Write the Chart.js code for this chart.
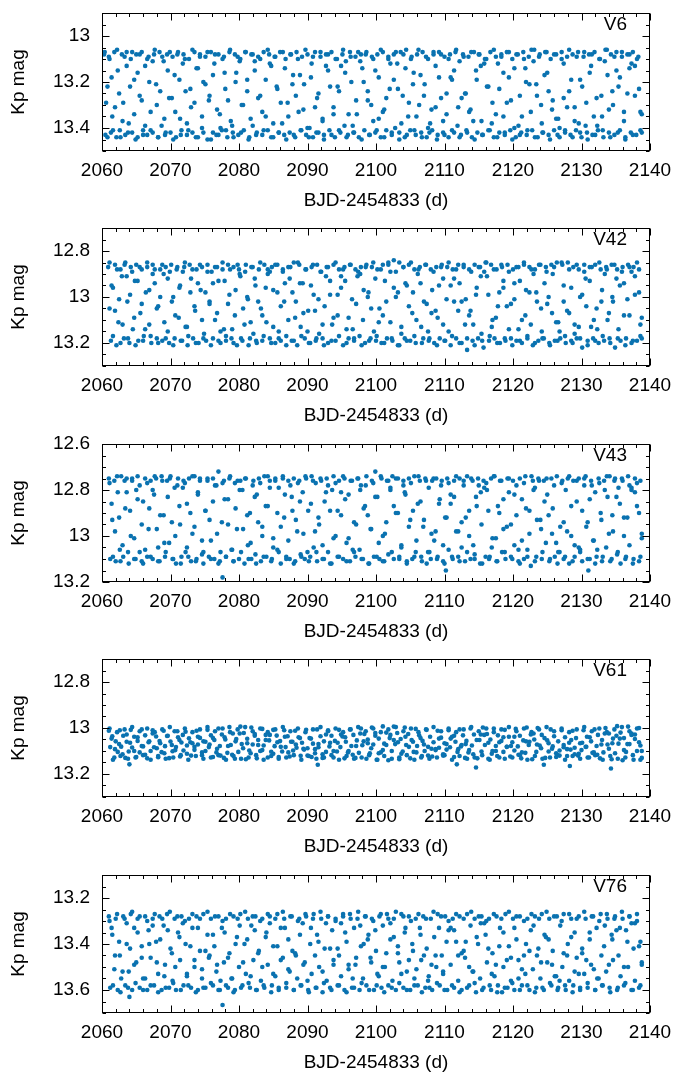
<!DOCTYPE html>
<html><head><meta charset="utf-8">
<script src="https://cdn.jsdelivr.net/npm/chart.js@4.4.1/dist/chart.umd.min.js"></script>
<style>
html,body{margin:0;padding:0;background:#fff;}
#wrap{position:relative;width:684px;height:1077px;overflow:hidden;}
#wrap canvas{position:absolute;left:0;}
</style></head><body><div id="wrap"></div>
<script>
// ---------- data ----------
const xTicks = [2060,2070,2080,2090,2100,2110,2120,2130,2140];
const xRange = [2060, 2140];
const starNames = ['V6','V42','V43','V61','V76'];
const v6Range = [12.9, 13.5];   const v6Ticks = [13, 13.2, 13.4];
const v42Range = [12.7, 13.3];  const v42Ticks = [12.8, 13, 13.2];
const v43Range = [12.6, 13.2];  const v43Ticks = [12.6, 12.8, 13, 13.2];
const v61Range = [12.7, 13.3];  const v61Ticks = [12.8, 13, 13.2];
const v76Range = [13.1, 13.7];  const v76Ticks = [13.2, 13.4, 13.6];

const v6 = [
[2060.3,13.08],[2060.5,13.43],[2060.8,13.22],[2061.0,13.09],[2061.3,13.42],[2061.5,13.35],[2061.8,13.07],[2062.1,13.44],
[2062.3,13.15],[2062.6,13.41],[2062.9,13.08],[2063.1,13.29],[2063.4,13.43],[2063.6,13.07],[2063.9,13.38],[2064.2,13.10],
[2064.4,13.42],[2064.7,13.19],[2065.0,13.08],[2065.2,13.44],[2065.5,13.26],[2065.8,13.07],[2066.0,13.41],[2066.3,13.13],
[2066.6,13.43],[2066.8,13.09],[2067.1,13.33],[2067.4,13.42],[2067.6,13.08],[2067.9,13.21],[2068.2,13.44],[2068.4,13.07],
[2068.7,13.39],[2069.0,13.11],[2069.2,13.43],[2069.5,13.08],[2069.8,13.27],[2070.0,13.42],[2070.3,13.09],[2070.6,13.17],
[2070.8,13.44],[2071.1,13.07],[2071.4,13.36],[2071.6,13.41],[2071.9,13.08],[2072.2,13.24],[2072.4,13.43],[2072.7,13.10],
[2073.0,13.31],[2073.2,13.42],[2073.5,13.07],[2073.8,13.14],[2074.0,13.44],[2074.3,13.08],[2074.6,13.40],[2074.8,13.20],
[2075.1,13.09],[2075.4,13.45],[2075.6,13.28],[2075.9,13.07],[2076.2,13.42],[2076.4,13.12],[2076.7,13.43],[2077.0,13.08],
[2077.2,13.34],[2077.5,13.41],[2077.8,13.09],[2078.0,13.23],[2078.3,13.44],[2078.6,13.07],[2078.8,13.37],[2079.1,13.42],
[2079.4,13.08],[2079.6,13.16],[2079.9,13.43],[2080.2,13.10],[2080.4,13.30],[2080.7,13.41],[2081.0,13.07],[2081.2,13.19],
[2081.5,13.44],[2081.8,13.08],[2082.0,13.39],[2082.3,13.11],[2082.6,13.42],[2082.8,13.09],[2083.1,13.26],[2083.4,13.43],
[2083.6,13.07],[2083.9,13.35],[2084.2,13.41],[2084.4,13.08],[2084.7,13.13],[2085.0,13.44],[2085.2,13.09],[2085.5,13.22],
[2085.8,13.42],[2086.0,13.07],[2086.3,13.38],[2086.6,13.43],[2086.8,13.10],[2087.1,13.29],[2087.4,13.42],[2087.6,13.08],
[2087.9,13.17],[2088.2,13.44],[2088.4,13.07],[2088.7,13.33],[2089.0,13.41],[2089.2,13.09],[2089.5,13.21],[2089.8,13.43],
[2090.0,13.08],[2090.3,13.40],[2090.6,13.12],[2090.8,13.44],[2091.1,13.07],[2091.4,13.27],[2091.6,13.42],[2091.9,13.09],
[2092.2,13.36],[2092.4,13.43],[2092.7,13.08],[2093.0,13.15],[2093.2,13.41],[2093.5,13.07],[2093.8,13.31],[2094.0,13.44],
[2094.3,13.10],[2094.6,13.24],[2094.8,13.42],[2095.1,13.08],[2095.4,13.39],[2095.6,13.11],[2095.9,13.43],[2096.2,13.07],
[2096.4,13.20],[2096.7,13.42],[2097.0,13.09],[2097.2,13.34],[2097.5,13.44],[2097.8,13.08],[2098.0,13.14],[2098.3,13.41],
[2098.6,13.07],[2098.8,13.28],[2099.1,13.43],[2099.4,13.09],[2099.6,13.37],[2099.9,13.42],[2100.2,13.08],[2100.4,13.18],
[2100.7,13.44],[2101.0,13.07],[2101.2,13.32],[2101.5,13.41],[2101.8,13.10],[2102.0,13.23],[2102.3,13.43],[2102.6,13.08],
[2102.8,13.40],[2103.1,13.12],[2103.4,13.42],[2103.6,13.07],[2103.9,13.26],[2104.2,13.44],[2104.4,13.06],[2104.7,13.35],
[2105.0,13.41],[2105.2,13.09],[2105.5,13.16],[2105.8,13.43],[2106.0,13.08],[2106.3,13.30],[2106.6,13.42],[2106.8,13.07],
[2107.1,13.21],[2107.4,13.44],[2107.6,13.10],[2107.9,13.38],[2108.2,13.41],[2108.4,13.08],[2108.7,13.13],[2109.0,13.43],
[2109.2,13.07],[2109.5,13.27],[2109.8,13.42],[2110.0,13.09],[2110.3,13.34],[2110.6,13.44],[2110.8,13.08],[2111.1,13.19],
[2111.4,13.42],[2111.6,13.07],[2111.9,13.39],[2112.2,13.11],[2112.4,13.43],[2112.7,13.08],[2113.0,13.25],[2113.2,13.41],
[2113.5,13.09],[2113.8,13.32],[2114.0,13.44],[2114.3,13.07],[2114.6,13.15],[2114.8,13.42],[2115.1,13.08],[2115.4,13.37],
[2115.6,13.43],[2115.9,13.10],[2116.2,13.22],[2116.4,13.41],[2116.7,13.07],[2117.0,13.29],[2117.2,13.44],[2117.5,13.09],
[2117.8,13.12],[2118.0,13.42],[2118.3,13.08],[2118.6,13.35],[2118.8,13.43],[2119.1,13.07],[2119.4,13.18],[2119.6,13.41],
[2119.9,13.10],[2120.2,13.40],[2120.4,13.44],[2120.7,13.08],[2121.0,13.26],[2121.2,13.42],[2121.5,13.07],[2121.8,13.14],
[2122.0,13.43],[2122.3,13.09],[2122.6,13.33],[2122.8,13.41],[2123.1,13.06],[2123.4,13.21],[2123.6,13.44],[2123.9,13.08],
[2124.2,13.38],[2124.4,13.42],[2124.7,13.07],[2125.0,13.16],[2125.2,13.43],[2125.5,13.10],[2125.8,13.28],[2126.0,13.41],
[2126.3,13.08],[2126.6,13.36],[2126.8,13.44],[2127.1,13.07],[2127.4,13.12],[2127.6,13.42],[2127.9,13.09],[2128.2,13.24],
[2128.4,13.43],[2128.7,13.08],[2129.0,13.31],[2129.2,13.41],[2129.5,13.07],[2129.8,13.19],[2130.0,13.44],[2130.3,13.09],
[2130.6,13.39],[2130.8,13.42],[2131.1,13.08],[2131.4,13.13],[2131.6,13.43],[2131.9,13.07],[2132.2,13.27],[2132.4,13.41],
[2132.7,13.10],[2133.0,13.35],[2133.2,13.44],[2133.5,13.06],[2133.8,13.17],[2134.0,13.42],[2134.3,13.08],[2134.6,13.30],
[2134.8,13.43],[2135.1,13.07],[2135.4,13.22],[2135.6,13.41],[2135.9,13.09],[2136.2,13.37],[2136.4,13.44],[2136.7,13.08],
[2137.0,13.14],[2137.2,13.42],[2137.5,13.07],[2137.8,13.26],[2138.0,13.43],[2138.3,13.09],[2138.6,13.33],[2138.8,13.42]
];
const v6b = [
[2060.4,13.07],[2060.6,13.29],[2060.8,13.44],
[2061.1,13.10],[2061.4,13.18],[2061.6,13.41],[2061.9,13.31],[2062.2,13.06],[2062.5,13.25],[2062.7,13.44],[2063.0,13.37],
[2063.3,13.09],[2063.6,13.13],[2063.8,13.42],[2064.1,13.22],[2064.4,13.07],[2064.7,13.34],[2064.9,13.45],[2065.2,13.16],
[2065.5,13.08],[2065.8,13.28],[2066.0,13.43],[2066.3,13.39],[2066.6,13.10],[2066.9,13.20],[2067.1,13.41],[2067.4,13.11],
[2067.7,13.06],[2068.0,13.30],[2068.2,13.44],[2068.5,13.24],[2068.8,13.09],[2069.1,13.36],[2069.3,13.42],[2069.6,13.15],
[2069.9,13.07],[2070.2,13.27],[2070.4,13.45],[2070.7,13.33],[2071.0,13.08],[2071.3,13.19],[2071.5,13.43],[2071.8,13.12],
[2072.1,13.10],[2072.4,13.38],[2072.6,13.41],[2072.9,13.23],[2073.2,13.06],[2073.5,13.29],[2073.7,13.44],[2074.0,13.14],
[2074.3,13.09],[2074.6,13.35],[2074.8,13.42],[2075.1,13.21],[2075.4,13.07],[2075.7,13.26],[2075.9,13.45],[2076.2,13.17],
[2076.5,13.08],[2076.8,13.32],[2077.0,13.43],[2077.3,13.40],[2077.6,13.10],[2077.9,13.16],[2078.1,13.41],[2078.4,13.28],
[2078.7,13.06],[2079.0,13.39],[2079.2,13.44],[2079.5,13.20],[2079.8,13.09],[2080.1,13.11],[2080.3,13.42],[2080.6,13.30],
[2080.9,13.07],[2081.2,13.24],[2081.4,13.45],[2081.7,13.36],[2082.0,13.08],[2082.3,13.15],[2082.5,13.43],[2082.8,13.27],
[2083.1,13.10],[2083.4,13.33],[2083.6,13.41],[2083.9,13.19],[2084.2,13.06],[2084.5,13.12],[2084.7,13.44],[2085.0,13.38],
[2085.3,13.09],[2085.6,13.23],[2085.8,13.42],[2086.1,13.29],[2086.4,13.07],[2086.7,13.14],[2086.9,13.45],[2087.2,13.35],
[2087.5,13.08],[2087.8,13.21],[2088.0,13.43],[2088.3,13.26],[2088.6,13.10],[2088.9,13.17],[2089.1,13.41],[2089.4,13.32],
[2089.7,13.06],[2090.0,13.40],[2090.2,13.44],[2090.5,13.18],[2090.8,13.09],[2091.1,13.31],[2091.3,13.42],[2091.6,13.25],
[2091.9,13.07],[2092.2,13.37],[2092.4,13.45],[2092.7,13.13],[2093.0,13.08],[2093.3,13.22],[2093.5,13.43],[2093.8,13.34],
[2094.1,13.10],[2094.4,13.22],[2094.6,13.41],[2094.9,13.13],[2095.2,13.06],[2095.5,13.16],[2095.7,13.44],[2096.0,13.34],
[2096.3,13.09],[2096.6,13.39],[2096.8,13.42],[2097.1,13.28],[2097.4,13.07],[2097.7,13.11],[2097.9,13.45],[2098.2,13.20],
[2098.5,13.08],[2098.8,13.24],[2099.0,13.43],[2099.3,13.30],[2099.6,13.10],[2099.9,13.15],[2100.1,13.41],[2100.4,13.36],
[2100.7,13.06],[2101.0,13.33],[2101.2,13.44],[2101.5,13.27],[2101.8,13.09],[2102.1,13.12],[2102.3,13.42],[2102.6,13.19],
[2102.9,13.07],[2103.2,13.23],[2103.4,13.45],[2103.7,13.38],[2104.0,13.08],[2104.3,13.14],[2104.5,13.43],[2104.8,13.29],
[2105.1,13.10],[2105.4,13.21],[2105.6,13.41],[2105.9,13.35],[2106.2,13.06],[2106.5,13.17],[2106.7,13.44],[2107.0,13.26],
[2107.3,13.09],[2107.6,13.40],[2107.8,13.42],[2108.1,13.32],[2108.4,13.07],[2108.7,13.31],[2108.9,13.45],[2109.2,13.18],
[2109.5,13.08],[2109.8,13.37],[2110.0,13.43],[2110.3,13.25],[2110.6,13.10],[2110.9,13.18],[2111.1,13.41],[2111.4,13.15],
[2111.7,13.06],[2112.0,13.31],[2112.2,13.44],[2112.5,13.27],[2112.8,13.09],[2113.1,13.25],[2113.3,13.42],[2113.6,13.33],
[2113.9,13.07],[2114.2,13.37],[2114.4,13.45],[2114.7,13.19],[2115.0,13.08],[2115.3,13.13],[2115.5,13.43],[2115.8,13.12],
[2116.1,13.10],[2116.4,13.22],[2116.6,13.41],[2116.9,13.38],[2117.2,13.06],[2117.5,13.34],[2117.7,13.44],[2118.0,13.23],
[2118.3,13.09],[2118.6,13.16],[2118.8,13.42],[2119.1,13.29],[2119.4,13.07],[2119.7,13.28],[2119.9,13.45],[2120.2,13.14],
[2120.5,13.08],[2120.8,13.39],[2121.0,13.43],[2121.3,13.35],[2121.6,13.10],[2121.9,13.20],[2122.1,13.41],[2122.4,13.21],
[2122.7,13.06],[2123.0,13.11],[2123.2,13.44],[2123.5,13.26],[2123.8,13.09],[2124.1,13.30],[2124.3,13.42],[2124.6,13.17],
[2124.9,13.07],[2125.2,13.24],[2125.4,13.45],[2125.7,13.32],[2126.0,13.08],[2126.3,13.36],[2126.5,13.43],[2126.8,13.40],
[2127.1,13.10],[2127.4,13.27],[2127.6,13.41],[2127.9,13.31],[2128.2,13.06],[2128.5,13.19],[2128.7,13.44],[2129.0,13.37],
[2129.3,13.09],[2129.6,13.38],[2129.8,13.42],[2130.1,13.22],[2130.4,13.07],[2130.7,13.29],[2130.9,13.45],[2131.2,13.16],
[2131.5,13.08],[2131.8,13.35],[2132.0,13.43],[2132.3,13.39],[2132.6,13.10],[2132.9,13.26],[2133.1,13.41],[2133.4,13.11],
[2133.7,13.06],[2134.0,13.32],[2134.2,13.44],[2134.5,13.24],[2134.8,13.09],[2135.1,13.15],[2135.3,13.42],[2135.6,13.18],
[2135.9,13.07],[2136.2,13.33],[2136.4,13.45],[2136.7,13.25],[2137.0,13.08],[2137.3,13.12],[2137.5,13.43],[2137.8,13.13],
[2138.1,13.10],[2138.4,13.23],[2138.6,13.41],[2138.8,13.34]
];

const v42 = [
[2060.9,12.87],[2061.1,13.05],[2061.3,13.19],[2061.6,12.96],[2061.9,12.86],[2062.1,13.21],[2062.4,13.11],[2062.7,12.88],
[2062.9,12.91],[2063.2,13.18],[2063.4,12.85],[2063.7,13.02],[2064.0,13.20],[2064.2,12.87],[2064.5,13.14],[2064.8,12.93],
[2065.0,12.86],[2065.3,13.19],[2065.6,13.07],[2065.8,12.88],[2066.1,13.17],[2066.4,12.98],[2066.6,12.87],[2066.9,13.12],
[2067.2,13.20],[2067.4,12.86],[2067.7,12.94],[2068.0,13.18],[2068.2,13.04],[2068.5,12.88],[2068.8,13.19],[2069.0,12.90],
[2069.3,12.87],[2069.6,13.15],[2069.8,13.20],[2070.1,12.86],[2070.4,13.00],[2070.6,13.18],[2070.9,12.88],[2071.2,13.09],
[2071.4,12.95],[2071.7,13.19],[2072.0,12.87],[2072.2,13.13],[2072.5,13.21],[2072.8,12.86],[2073.0,12.92],[2073.3,13.18],
[2073.6,13.06],[2073.8,12.88],[2074.1,13.20],[2074.4,12.97],[2074.6,12.87],[2074.9,13.16],[2075.2,13.19],[2075.4,12.86],
[2075.7,13.03],[2076.0,12.89],[2076.2,13.18],[2076.5,13.10],[2076.8,12.87],[2077.0,12.93],[2077.3,13.20],[2077.6,12.88],
[2077.8,13.14],[2078.1,13.19],[2078.4,12.86],[2078.6,12.99],[2078.9,13.18],[2079.2,12.87],[2079.4,13.08],[2079.7,13.21],
[2080.0,12.88],[2080.2,12.91],[2080.5,13.19],[2080.8,13.12],[2081.0,12.86],[2081.3,13.01],[2081.6,13.18],[2081.8,12.87],
[2082.1,13.16],[2082.4,12.95],[2082.6,13.20],[2082.9,12.88],[2083.2,13.05],[2083.4,13.19],[2083.7,12.86],[2084.0,13.11],
[2084.2,12.90],[2084.5,13.18],[2084.8,12.87],[2085.0,12.97],[2085.3,13.20],[2085.6,12.86],[2085.8,13.15],[2086.1,13.19],
[2086.4,12.88],[2086.6,13.02],[2086.9,13.17],[2087.2,12.87],[2087.4,12.92],[2087.7,13.19],[2088.0,12.85],[2088.2,13.09],
[2088.5,13.21],[2088.8,12.86],[2089.0,13.13],[2089.3,12.94],[2089.6,13.18],[2089.8,12.88],[2090.1,13.06],[2090.4,13.20],
[2090.6,12.87],[2090.9,12.99],[2091.2,13.19],[2091.4,12.86],[2091.7,13.16],[2092.0,12.89],[2092.2,13.18],[2092.5,13.04],
[2092.8,12.87],[2093.0,13.20],[2093.3,12.93],[2093.6,13.12],[2093.8,12.86],[2094.1,13.19],[2094.4,13.08],[2094.6,12.88],
[2094.9,12.96],[2095.2,13.21],[2095.4,12.87],[2095.7,13.14],[2096.0,13.18],[2096.2,12.86],[2096.5,13.01],[2096.8,13.19],
[2097.0,12.88],[2097.3,12.91],[2097.6,13.17],[2097.8,12.87],[2098.1,13.10],[2098.4,13.20],[2098.6,12.86],[2098.9,12.98],
[2099.2,13.18],[2099.4,12.87],[2099.7,13.15],[2100.0,13.19],[2100.2,12.88],[2100.5,13.05],[2100.8,13.20],[2101.0,12.86],
[2101.3,12.93],[2101.6,13.18],[2101.8,12.85],[2102.1,13.11],[2102.4,13.19],[2102.6,12.84],[2102.9,13.00],[2103.2,13.21],
[2103.4,12.85],[2103.7,13.16],[2104.0,12.87],[2104.2,13.18],[2104.5,12.95],[2104.8,12.86],[2105.0,13.19],[2105.3,13.07],
[2105.6,12.88],[2105.8,13.20],[2106.1,12.90],[2106.4,12.87],[2106.6,13.13],[2106.9,13.18],[2107.2,12.86],[2107.4,13.03],
[2107.7,13.19],[2108.0,12.88],[2108.2,12.97],[2108.5,13.20],[2108.8,12.87],[2109.0,13.09],[2109.3,13.18],[2109.6,12.86],
[2109.8,12.92],[2110.1,13.19],[2110.4,12.87],[2110.6,13.15],[2110.9,13.21],[2111.2,12.88],[2111.4,13.02],[2111.7,13.18],
[2112.0,12.86],[2112.2,12.94],[2112.5,13.20],[2112.8,12.87],[2113.0,13.12],[2113.3,13.23],[2113.6,12.88],[2113.8,13.06],
[2114.1,13.19],[2114.4,12.86],[2114.6,12.99],[2114.9,13.18],[2115.2,12.87],[2115.4,13.16],[2115.7,13.22],[2116.0,12.85],
[2116.2,12.91],[2116.5,13.19],[2116.8,12.86],[2117.0,13.10],[2117.3,13.18],[2117.6,12.88],[2117.8,13.04],[2118.1,13.20],
[2118.4,12.87],[2118.6,12.96],[2118.9,13.19],[2119.2,12.86],[2119.4,13.14],[2119.7,13.18],[2120.0,12.88],[2120.2,13.01],
[2120.5,13.19],[2120.8,12.87],[2121.0,12.93],[2121.3,13.20],[2121.6,12.86],[2121.8,13.08],[2122.1,13.18],[2122.4,12.87],
[2122.6,13.12],[2122.9,13.21],[2123.2,12.88],[2123.4,12.98],[2123.7,13.19],[2124.0,12.86],[2124.2,13.15],[2124.5,13.18],
[2124.8,12.87],[2125.0,13.03],[2125.3,13.20],[2125.6,12.86],[2125.8,12.90],[2126.1,13.19],[2126.4,12.85],[2126.6,13.11],
[2126.9,13.18],[2127.2,12.86],[2127.4,12.95],[2127.7,13.20],[2128.0,12.85],[2128.2,13.07],[2128.5,13.19],[2128.8,12.87],
[2129.0,13.16],[2129.3,13.18],[2129.6,12.88],[2129.8,13.00],[2130.1,13.22],[2130.4,12.86],[2130.6,12.92],[2130.9,13.19],
[2131.2,12.87],[2131.4,13.13],[2131.7,13.18],[2132.0,12.86],[2132.2,13.05],[2132.5,13.20],[2132.8,12.88],[2133.0,12.97],
[2133.3,13.19],[2133.6,12.87],[2133.8,13.10],[2134.1,13.18],[2134.4,12.86],[2134.6,13.02],[2134.9,13.22],[2135.2,12.88],
[2135.4,13.14],[2135.7,13.19],[2136.0,12.87],[2136.2,12.94],[2136.5,13.18],[2136.8,12.86],[2137.0,13.08],[2137.3,13.20],
[2137.6,12.87],[2137.8,12.99],[2138.1,13.19],[2138.4,12.88],[2138.6,13.12],[2138.8,13.18]
];
const v42b = [
[2061.1,12.85],[2061.4,12.95],[2061.6,13.17],[2061.9,13.06],[2062.2,12.88],[2062.5,13.01],[2062.7,13.20],[2063.0,13.12],
[2063.3,12.86],[2063.6,12.91],[2063.8,13.18],[2064.1,12.99],[2064.4,12.89],[2064.7,13.09],[2064.9,13.21],[2065.2,12.93],
[2065.5,12.87],[2065.8,13.03],[2066.0,13.19],[2066.3,13.14],[2066.6,12.85],[2066.9,12.97],[2067.1,13.17],[2067.4,12.90],
[2067.7,12.88],[2068.0,13.05],[2068.2,13.20],[2068.5,13.00],[2068.8,12.86],[2069.1,13.11],[2069.3,13.18],[2069.6,12.92],
[2069.9,12.89],[2070.2,13.02],[2070.4,13.21],[2070.7,13.08],[2071.0,12.87],[2071.3,12.96],[2071.5,13.19],[2071.8,12.89],
[2072.1,12.85],[2072.4,13.13],[2072.6,13.17],[2072.9,12.98],[2073.2,12.88],[2073.5,13.04],[2073.7,13.20],[2074.0,12.94],
[2074.3,12.86],[2074.6,13.10],[2074.8,13.18],[2075.1,12.98],[2075.4,12.89],[2075.7,13.02],[2075.9,13.21],[2076.2,12.94],
[2076.5,12.87],[2076.8,13.07],[2077.0,13.19],[2077.3,13.15],[2077.6,12.85],[2077.9,12.93],[2078.1,13.17],[2078.4,13.03],
[2078.7,12.88],[2079.0,13.14],[2079.2,13.20],[2079.5,12.97],[2079.8,12.86],[2080.1,12.90],[2080.3,13.18],[2080.6,13.05],
[2080.9,12.89],[2081.2,13.00],[2081.4,13.21],[2081.7,13.11],[2082.0,12.87],[2082.3,12.92],[2082.5,13.19],[2082.8,13.02],
[2083.1,12.85],[2083.4,13.08],[2083.6,13.17],[2083.9,12.96],[2084.2,12.88],[2084.5,12.89],[2084.7,13.20],[2085.0,13.13],
[2085.3,12.86],[2085.6,12.98],[2085.8,13.18],[2086.1,13.04],[2086.4,12.89],[2086.7,12.94],[2086.9,13.21],[2087.2,13.10],
[2087.5,12.87],[2087.8,12.98],[2088.0,13.19],[2088.3,13.02],[2088.6,12.85],[2088.9,12.94],[2089.1,13.17],[2089.4,13.07],
[2089.7,12.88],[2090.0,13.15],[2090.2,13.20],[2090.5,12.95],[2090.8,12.86],[2091.1,13.06],[2091.3,13.18],[2091.6,13.01],
[2091.9,12.89],[2092.2,13.12],[2092.4,13.21],[2092.7,12.91],[2093.0,12.87],[2093.3,12.99],[2093.5,13.19],[2093.8,13.09],
[2094.1,12.85],[2094.4,12.99],[2094.6,13.17],[2094.9,12.91],[2095.2,12.88],[2095.5,12.93],[2095.7,13.20],[2096.0,13.09],
[2096.3,12.86],[2096.6,13.14],[2096.8,13.18],[2097.1,13.03],[2097.4,12.89],[2097.7,12.90],[2097.9,13.21],[2098.2,12.97],
[2098.5,12.87],[2098.8,13.00],[2099.0,13.19],[2099.3,13.05],[2099.6,12.85],[2099.9,12.92],[2100.1,13.17],[2100.4,13.11],
[2100.7,12.88],[2101.0,13.08],[2101.2,13.20],[2101.5,13.02],[2101.8,12.86],[2102.1,12.89],[2102.3,13.18],[2102.6,12.96],
[2102.9,12.89],[2103.2,12.98],[2103.4,13.21],[2103.7,13.13],[2104.0,12.87],[2104.3,12.94],[2104.5,13.19],[2104.8,13.04],
[2105.1,12.85],[2105.4,12.98],[2105.6,13.17],[2105.9,13.10],[2106.2,12.88],[2106.5,12.94],[2106.7,13.20],[2107.0,13.02],
[2107.3,12.86],[2107.6,13.15],[2107.8,13.18],[2108.1,13.07],[2108.4,12.89],[2108.7,13.06],[2108.9,13.21],[2109.2,12.95],
[2109.5,12.87],[2109.8,13.12],[2110.0,13.19],[2110.3,13.01],[2110.6,12.85],[2110.9,12.95],[2111.1,13.17],[2111.4,12.92],
[2111.7,12.88],[2112.0,13.06],[2112.2,13.20],[2112.5,13.02],[2112.8,12.86],[2113.1,13.01],[2113.3,13.18],[2113.6,13.08],
[2113.9,12.89],[2114.2,13.12],[2114.4,13.21],[2114.7,12.96],[2115.0,12.87],[2115.3,12.91],[2115.5,13.19],[2115.8,12.89],
[2116.1,12.85],[2116.4,12.99],[2116.6,13.17],[2116.9,13.13],[2117.2,12.88],[2117.5,13.09],[2117.7,13.20],[2118.0,12.98],
[2118.3,12.86],[2118.6,12.93],[2118.8,13.18],[2119.1,13.04],[2119.4,12.89],[2119.7,13.03],[2119.9,13.21],[2120.2,12.94],
[2120.5,12.87],[2120.8,13.14],[2121.0,13.19],[2121.3,13.10],[2121.6,12.85],[2121.9,12.97],[2122.1,13.17],[2122.4,12.98],
[2122.7,12.88],[2123.0,12.90],[2123.2,13.20],[2123.5,13.02],[2123.8,12.86],[2124.1,13.05],[2124.3,13.18],[2124.6,12.94],
[2124.9,12.89],[2125.2,13.00],[2125.4,13.21],[2125.7,13.07],[2126.0,12.87],[2126.3,13.11],[2126.5,13.19],[2126.8,13.15],
[2127.1,12.85],[2127.4,13.02],[2127.6,13.17],[2127.9,13.06],[2128.2,12.88],[2128.5,12.96],[2128.7,13.20],[2129.0,13.12],
[2129.3,12.86],[2129.6,13.13],[2129.8,13.18],[2130.1,12.99],[2130.4,12.89],[2130.7,13.04],[2130.9,13.21],[2131.2,12.93],
[2131.5,12.87],[2131.8,13.10],[2132.0,13.19],[2132.3,13.14],[2132.6,12.85],[2132.9,13.02],[2133.1,13.17],[2133.4,12.90],
[2133.7,12.88],[2134.0,13.07],[2134.2,13.20],[2134.5,13.00],[2134.8,12.86],[2135.1,12.92],[2135.3,13.18],[2135.6,12.95],
[2135.9,12.89],[2136.2,13.08],[2136.4,13.21],[2136.7,13.01],[2137.0,12.87],[2137.3,12.89],[2137.5,13.19],[2137.8,12.91],
[2138.1,12.85],[2138.4,12.98],[2138.6,13.17],[2138.8,13.09]
];

const v43 = [
[2061.0,12.75],[2061.2,13.10],[2061.5,12.93],[2061.8,12.76],[2062.0,13.11],[2062.3,12.81],[2062.6,13.06],[2062.8,12.74],
[2063.1,13.09],[2063.4,12.88],[2063.6,12.75],[2063.9,13.12],[2064.2,13.00],[2064.4,12.76],[2064.7,13.10],[2065.0,12.80],
[2065.2,12.74],[2065.5,13.07],[2065.8,13.11],[2066.0,12.85],[2066.3,12.75],[2066.6,13.09],[2066.8,12.97],[2067.1,12.76],
[2067.4,13.10],[2067.6,12.82],[2067.9,12.75],[2068.2,13.05],[2068.4,13.11],[2068.7,12.74],[2069.0,12.91],[2069.2,13.09],
[2069.5,12.76],[2069.8,13.03],[2070.0,12.74],[2070.3,13.10],[2070.6,12.79],[2070.8,13.12],[2071.1,12.75],[2071.4,12.95],
[2071.6,13.09],[2071.9,12.76],[2072.2,13.07],[2072.4,12.86],[2072.7,12.75],[2073.0,13.11],[2073.2,12.99],[2073.5,12.74],
[2073.8,13.10],[2074.0,12.81],[2074.3,12.75],[2074.6,13.08],[2074.8,13.12],[2075.1,12.89],[2075.4,12.76],[2075.6,13.09],
[2075.9,13.02],[2076.2,12.75],[2076.4,13.10],[2076.7,12.78],[2077.0,12.72],[2077.2,13.11],[2077.5,12.94],[2077.6,13.18],
[2077.8,12.76],[2078.1,13.09],[2078.4,12.84],[2078.6,12.75],[2078.9,13.06],[2079.2,13.11],[2079.4,12.77],[2079.7,12.97],
[2080.0,13.10],[2080.2,12.76],[2080.5,12.80],[2080.8,13.12],[2081.0,12.75],[2081.3,13.04],[2081.6,12.90],[2081.8,13.10],
[2082.1,12.76],[2082.4,13.08],[2082.6,12.82],[2082.9,12.75],[2083.2,13.11],[2083.4,12.96],[2083.7,12.74],[2084.0,13.09],
[2084.2,12.87],[2084.5,12.76],[2084.8,13.10],[2085.0,13.01],[2085.3,12.75],[2085.6,13.06],[2085.8,12.79],[2086.1,13.12],
[2086.4,12.74],[2086.6,12.92],[2086.9,13.09],[2087.2,12.76],[2087.4,13.10],[2087.7,12.83],[2088.0,12.75],[2088.2,13.11],
[2088.5,12.98],[2088.8,12.76],[2089.0,13.08],[2089.3,12.81],[2089.6,13.10],[2089.8,12.75],[2090.1,12.89],[2090.4,13.09],
[2090.6,12.74],[2090.9,13.05],[2091.2,12.77],[2091.4,13.11],[2091.7,12.95],[2092.0,12.76],[2092.2,13.10],[2092.5,12.85],
[2092.8,12.75],[2093.0,13.07],[2093.3,13.12],[2093.6,12.80],[2093.8,12.74],[2094.1,13.00],[2094.4,13.09],[2094.6,12.76],
[2094.9,12.91],[2095.2,13.10],[2095.4,12.75],[2095.7,13.03],[2096.0,12.82],[2096.2,13.11],[2096.5,12.76],[2096.8,12.94],
[2097.0,13.09],[2097.3,12.75],[2097.6,13.06],[2097.8,12.78],[2098.1,13.10],[2098.4,12.87],[2098.6,12.74],[2098.9,13.12],
[2099.2,12.97],[2099.4,12.76],[2099.7,13.09],[2099.9,12.72],[2100.2,12.83],[2100.5,13.10],[2100.8,12.75],[2101.0,13.11],
[2101.3,12.99],[2101.6,12.76],[2101.8,13.08],[2102.1,12.80],[2102.4,12.74],[2102.6,13.10],[2102.9,12.90],[2103.2,12.75],
[2103.4,13.09],[2103.7,13.04],[2104.0,12.76],[2104.2,12.81],[2104.5,13.11],[2104.8,12.75],[2105.0,12.93],[2105.3,13.10],
[2105.6,12.74],[2105.8,13.07],[2106.1,12.86],[2106.4,12.76],[2106.6,13.09],[2106.9,12.96],[2107.2,12.75],[2107.4,13.12],
[2107.7,12.79],[2108.0,13.10],[2108.2,12.76],[2108.5,13.02],[2108.8,12.75],[2109.0,13.09],[2109.3,12.84],[2109.6,12.76],
[2109.8,13.11],[2110.1,12.92],[2110.2,13.15],[2110.4,12.75],[2110.6,13.06],[2110.9,12.82],[2111.2,13.10],[2111.4,12.76],
[2111.7,12.98],[2112.0,13.09],[2112.2,12.75],[2112.5,13.05],[2112.8,12.78],[2113.0,13.11],[2113.3,12.74],[2113.6,12.89],
[2113.8,13.10],[2114.1,12.76],[2114.4,13.08],[2114.6,12.83],[2114.9,12.75],[2115.2,13.12],[2115.4,12.95],[2115.7,12.76],
[2116.0,13.09],[2116.2,12.80],[2116.5,13.10],[2116.8,12.75],[2117.0,13.01],[2117.3,12.74],[2117.6,13.11],[2117.8,12.87],
[2118.1,12.76],[2118.4,13.07],[2118.6,12.97],[2118.9,13.10],[2119.2,12.75],[2119.4,12.81],[2119.7,13.09],[2120.0,12.76],
[2120.2,13.04],[2120.5,12.91],[2120.8,13.11],[2121.0,12.75],[2121.3,12.84],[2121.6,13.10],[2121.8,12.74],[2122.1,13.06],
[2122.4,12.99],[2122.6,13.13],[2122.9,12.76],[2123.2,12.79],[2123.4,13.09],[2123.7,12.75],[2124.0,12.93],[2124.2,13.10],
[2124.5,12.76],[2124.8,13.03],[2125.0,12.82],[2125.3,13.11],[2125.6,12.75],[2125.8,12.88],[2126.1,13.09],[2126.4,12.74],
[2126.6,13.07],[2126.9,12.96],[2127.2,12.76],[2127.4,13.10],[2127.7,12.80],[2128.0,12.75],[2128.2,13.12],[2128.5,13.00],
[2128.8,12.76],[2129.0,13.09],[2129.3,12.85],[2129.6,12.75],[2129.8,13.06],[2130.1,13.11],[2130.4,12.78],[2130.6,12.74],
[2130.9,12.94],[2131.0,13.15],[2131.2,13.10],[2131.4,12.76],[2131.7,13.02],[2132.0,12.81],[2132.2,13.09],[2132.5,12.75],
[2132.8,12.90],[2133.0,13.11],[2133.3,12.76],[2133.6,13.05],[2133.8,12.83],[2134.1,12.74],[2134.4,13.10],[2134.6,12.98],
[2134.9,12.75],[2135.2,13.08],[2135.4,12.79],[2135.7,13.12],[2136.0,12.76],[2136.2,12.92],[2136.5,13.09],[2136.8,12.74],
[2137.0,13.04],[2137.3,12.80],[2137.6,13.10],[2137.8,12.75],[2138.1,12.87],[2138.4,13.11],[2138.6,12.76],[2138.8,12.99]
];
const v43b = [
[2061.1,12.77],[2061.4,12.86],[2061.6,13.09],[2061.9,12.98],[2062.2,12.74],[2062.5,12.92],[2062.7,13.11],[2063.0,13.04],
[2063.3,12.76],[2063.6,12.81],[2063.8,13.07],[2064.1,12.89],[2064.4,12.75],[2064.7,13.01],[2064.9,13.10],[2065.2,12.84],
[2065.5,12.78],[2065.8,12.95],[2066.0,13.12],[2066.3,13.06],[2066.6,12.77],[2066.9,12.88],[2067.1,13.09],[2067.4,12.80],
[2067.7,12.74],[2068.0,12.97],[2068.2,13.11],[2068.5,12.91],[2068.8,12.76],[2069.1,13.03],[2069.3,13.07],[2069.6,12.83],
[2069.9,12.75],[2070.2,12.94],[2070.4,13.10],[2070.7,13.00],[2071.0,12.78],[2071.3,12.87],[2071.5,13.12],[2071.8,12.79],
[2072.1,12.77],[2072.4,13.05],[2072.6,13.09],[2072.9,12.90],[2073.2,12.74],[2073.5,12.96],[2073.7,13.11],[2074.0,12.82],
[2074.3,12.76],[2074.6,13.02],[2074.8,13.07],[2075.1,12.89],[2075.4,12.75],[2075.7,12.93],[2075.9,13.10],[2076.2,12.85],
[2076.5,12.78],[2076.8,12.99],[2077.0,13.12],[2077.3,13.07],[2077.6,12.77],[2077.9,12.84],[2078.1,13.09],[2078.4,12.95],
[2078.7,12.74],[2079.0,13.06],[2079.2,13.11],[2079.5,12.88],[2079.8,12.76],[2080.1,12.80],[2080.3,13.07],[2080.6,12.97],
[2080.9,12.75],[2081.2,12.91],[2081.4,13.10],[2081.7,13.03],[2082.0,12.78],[2082.3,12.83],[2082.5,13.12],[2082.8,12.94],
[2083.1,12.77],[2083.4,13.00],[2083.6,13.09],[2083.9,12.87],[2084.2,12.74],[2084.5,12.79],[2084.7,13.11],[2085.0,13.05],
[2085.3,12.76],[2085.6,12.90],[2085.8,13.07],[2086.1,12.96],[2086.4,12.75],[2086.7,12.82],[2086.9,13.10],[2087.2,13.02],
[2087.5,12.78],[2087.8,12.89],[2088.0,13.12],[2088.3,12.93],[2088.6,12.77],[2088.9,12.85],[2089.1,13.09],[2089.4,12.99],
[2089.7,12.74],[2090.0,13.07],[2090.2,13.11],[2090.5,12.86],[2090.8,12.76],[2091.1,12.98],[2091.3,13.07],[2091.6,12.92],
[2091.9,12.75],[2092.2,13.04],[2092.4,13.10],[2092.7,12.81],[2093.0,12.78],[2093.3,12.89],[2093.5,13.12],[2093.8,13.01],
[2094.1,12.77],[2094.4,12.89],[2094.6,13.09],[2094.9,12.81],[2095.2,12.74],[2095.5,12.84],[2095.7,13.11],[2096.0,13.01],
[2096.3,12.76],[2096.6,13.06],[2096.8,13.07],[2097.1,12.95],[2097.4,12.75],[2097.7,12.80],[2097.9,13.10],[2098.2,12.88],
[2098.5,12.78],[2098.8,12.91],[2099.0,13.12],[2099.3,12.97],[2099.6,12.77],[2099.9,12.83],[2100.1,13.09],[2100.4,13.03],
[2100.7,12.74],[2101.0,13.00],[2101.2,13.11],[2101.5,12.94],[2101.8,12.76],[2102.1,12.79],[2102.3,13.07],[2102.6,12.87],
[2102.9,12.75],[2103.2,12.90],[2103.4,13.10],[2103.7,13.05],[2104.0,12.78],[2104.3,12.82],[2104.5,13.12],[2104.8,12.96],
[2105.1,12.77],[2105.4,12.89],[2105.6,13.09],[2105.9,13.02],[2106.2,12.74],[2106.5,12.85],[2106.7,13.11],[2107.0,12.93],
[2107.3,12.76],[2107.6,13.07],[2107.8,13.07],[2108.1,12.99],[2108.4,12.75],[2108.7,12.98],[2108.9,13.10],[2109.2,12.86],
[2109.5,12.78],[2109.8,13.04],[2110.0,13.12],[2110.3,12.92],[2110.6,12.77],[2110.9,12.86],[2111.1,13.09],[2111.4,12.83],
[2111.7,12.74],[2112.0,12.98],[2112.2,13.11],[2112.5,12.94],[2112.8,12.76],[2113.1,12.92],[2113.3,13.07],[2113.6,13.00],
[2113.9,12.75],[2114.2,13.04],[2114.4,13.10],[2114.7,12.87],[2115.0,12.78],[2115.3,12.81],[2115.5,13.12],[2115.8,12.79],
[2116.1,12.77],[2116.4,12.89],[2116.6,13.09],[2116.9,13.05],[2117.2,12.74],[2117.5,13.01],[2117.7,13.11],[2118.0,12.90],
[2118.3,12.76],[2118.6,12.84],[2118.8,13.07],[2119.1,12.96],[2119.4,12.75],[2119.7,12.95],[2119.9,13.10],[2120.2,12.82],
[2120.5,12.78],[2120.8,13.06],[2121.0,13.12],[2121.3,13.02],[2121.6,12.77],[2121.9,12.88],[2122.1,13.09],[2122.4,12.89],
[2122.7,12.74],[2123.0,12.80],[2123.2,13.11],[2123.5,12.93],[2123.8,12.76],[2124.1,12.97],[2124.3,13.07],[2124.6,12.85],
[2124.9,12.75],[2125.2,12.91],[2125.4,13.10],[2125.7,12.99],[2126.0,12.78],[2126.3,13.03],[2126.5,13.12],[2126.8,13.07],
[2127.1,12.77],[2127.4,12.94],[2127.6,13.09],[2127.9,12.98],[2128.2,12.74],[2128.5,12.87],[2128.7,13.11],[2129.0,13.04],
[2129.3,12.76],[2129.6,13.05],[2129.8,13.07],[2130.1,12.89],[2130.4,12.75],[2130.7,12.96],[2130.9,13.10],[2131.2,12.84],
[2131.5,12.78],[2131.8,13.02],[2132.0,13.12],[2132.3,13.06],[2132.6,12.77],[2132.9,12.93],[2133.1,13.09],[2133.4,12.80],
[2133.7,12.74],[2134.0,12.99],[2134.2,13.11],[2134.5,12.91],[2134.8,12.76],[2135.1,12.83],[2135.3,13.07],[2135.6,12.86],
[2135.9,12.75],[2136.2,13.00],[2136.4,13.10],[2136.7,12.92],[2137.0,12.78],[2137.3,12.79],[2137.5,13.12],[2137.8,12.81],
[2138.1,12.77],[2138.4,12.90],[2138.6,13.09],[2138.8,13.01]
];

const v61 = [
[2061.0,13.012],[2061.2,13.083],[2061.5,13.036],[2061.8,13.128],[2062.0,13.058],[2062.3,13.104],[2062.6,13.010],[2062.8,13.081],
[2063.1,13.034],[2063.4,13.130],[2063.6,13.060],[2063.9,13.102],[2064.0,13.158],[2064.2,13.008],[2064.4,13.085],[2064.7,13.038],
[2065.0,13.126],[2065.2,13.056],[2065.5,13.106],[2065.8,13.006],[2066.0,13.080],[2066.3,13.032],[2066.6,13.132],[2066.8,13.062],
[2067.1,13.100],[2067.4,13.010],[2067.6,13.084],[2067.9,13.037],[2068.2,13.127],[2068.4,13.057],[2068.7,13.105],[2069.0,13.012],
[2069.2,13.079],[2069.5,13.035],[2069.8,13.131],[2070.0,13.059],[2070.3,13.101],[2070.6,13.014],[2070.8,13.083],[2071.1,13.040],
[2071.4,13.124],[2071.6,13.063],[2071.9,13.098],[2072.2,13.016],[2072.4,13.076],[2072.7,13.045],[2073.0,13.120],[2073.2,13.066],
[2073.5,13.095],[2073.8,13.012],[2074.0,13.072],[2074.3,13.043],[2074.6,13.118],[2074.8,13.058],[2075.1,13.100],[2075.4,13.008],
[2075.6,13.083],[2075.9,13.032],[2076.2,13.126],[2076.4,13.052],[2076.7,13.106],[2077.0,13.002],[2077.2,13.078],[2077.5,13.028],
[2077.8,13.130],[2078.0,13.050],[2078.3,13.108],[2078.6,12.996],[2078.8,13.074],[2079.1,13.024],[2079.4,13.134],[2079.6,13.048],
[2079.9,13.104],[2080.2,12.994],[2080.4,13.070],[2080.7,13.022],[2081.0,13.136],[2081.2,13.047],[2081.5,13.098],[2081.8,12.998],
[2082.0,13.072],[2082.3,13.026],[2082.6,13.132],[2082.8,13.052],[2083.1,13.100],[2083.4,13.004],[2083.6,13.076],[2083.9,13.030],
[2084.2,13.128],[2084.4,13.054],[2084.7,13.103],[2085.0,13.008],[2085.2,13.079],[2085.5,13.033],[2085.8,13.126],[2086.0,13.057],
[2086.3,13.102],[2086.6,13.010],[2086.8,13.083],[2087.1,13.036],[2087.4,13.124],[2087.6,13.060],[2087.9,13.098],[2088.2,13.012],
[2088.4,13.086],[2088.7,13.040],[2089.0,13.121],[2089.2,13.064],[2089.5,13.094],[2089.8,13.008],[2090.0,13.088],[2090.3,13.044],
[2090.6,13.126],[2090.8,13.068],[2091.1,13.110],[2091.4,13.006],[2091.5,13.160],[2091.6,13.084],[2091.9,13.036],[2092.2,13.130],
[2092.4,13.058],[2092.7,13.104],[2093.0,13.010],[2093.2,13.080],[2093.5,13.034],[2093.8,13.128],[2094.0,13.056],[2094.3,13.102],
[2094.6,13.008],[2094.8,13.083],[2095.1,13.037],[2095.4,13.132],[2095.6,13.060],[2095.9,13.106],[2096.2,13.006],[2096.4,13.078],
[2096.7,13.030],[2097.0,13.130],[2097.2,13.054],[2097.5,13.108],[2097.8,13.002],[2098.0,13.075],[2098.3,13.026],[2098.6,13.134],
[2098.8,13.050],[2099.1,13.110],[2099.4,12.998],[2099.6,13.072],[2099.9,13.022],[2100.2,13.138],[2100.4,13.046],[2100.7,13.106],
[2101.0,12.993],[2101.2,13.068],[2101.5,13.020],[2101.8,13.140],[2102.0,13.044],[2102.3,13.100],[2102.6,12.994],[2102.8,13.070],
[2103.1,13.022],[2103.4,13.136],[2103.6,13.048],[2103.9,13.102],[2104.2,12.998],[2104.4,13.074],[2104.7,13.026],[2105.0,13.132],
[2105.2,13.052],[2105.5,13.104],[2105.8,13.004],[2106.0,13.078],[2106.3,13.032],[2106.6,13.128],[2106.8,13.056],[2107.1,13.100],
[2107.4,13.008],[2107.6,13.082],[2107.9,13.038],[2108.2,13.124],[2108.4,13.062],[2108.7,13.096],[2109.0,13.012],[2109.2,13.086],
[2109.5,13.042],[2109.8,13.120],[2110.0,13.066],[2110.3,13.094],[2110.6,13.010],[2110.8,13.084],[2111.1,13.038],[2111.4,13.126],
[2111.6,13.060],[2111.8,13.158],[2111.9,13.104],[2112.2,13.006],[2112.4,13.080],[2112.7,13.032],[2113.0,13.130],[2113.2,13.056],
[2113.5,13.106],[2113.8,13.002],[2114.0,13.076],[2114.3,13.028],[2114.6,13.172],[2114.8,13.132],[2115.1,13.052],[2115.4,13.102],
[2115.6,12.998],[2115.9,13.074],[2116.2,13.026],[2116.4,13.134],[2116.7,13.050],[2117.0,13.100],[2117.2,13.002],[2117.5,13.078],
[2117.8,13.032],[2118.0,13.128],[2118.3,13.056],[2118.6,13.104],[2118.8,13.008],[2119.1,13.082],[2119.4,13.038],[2119.6,13.124],
[2119.9,13.062],[2120.2,13.098],[2120.4,13.004],[2120.7,13.080],[2121.0,13.034],[2121.2,13.132],[2121.5,13.054],[2121.8,13.108],
[2122.0,12.998],[2122.3,13.074],[2122.6,13.028],[2122.8,13.136],[2123.1,13.050],[2123.4,13.104],[2123.6,13.000],[2123.9,13.076],
[2124.2,13.030],[2124.5,13.160],[2124.7,13.130],[2125.0,13.054],[2125.2,13.102],[2125.5,13.006],[2125.8,13.080],[2126.0,13.036],
[2126.3,13.126],[2126.6,13.058],[2126.8,13.098],[2127.1,13.010],[2127.4,13.084],[2127.6,13.040],[2127.9,13.122],[2128.2,13.064],
[2128.3,13.165],[2128.4,13.094],[2128.7,13.012],[2129.0,13.086],[2129.2,13.044],[2129.5,13.120],[2129.8,13.066],[2130.0,13.096],
[2130.3,13.010],[2130.6,13.082],[2130.8,13.038],[2131.1,13.128],[2131.4,13.058],[2131.6,13.108],[2131.9,13.006],[2132.2,13.078],
[2132.4,13.030],[2132.7,13.132],[2133.0,13.052],[2133.2,13.106],[2133.5,13.000],[2133.8,13.072],[2134.0,13.024],[2134.3,13.176],
[2134.4,13.136],[2134.6,13.046],[2134.9,13.110],[2135.2,12.992],[2135.4,13.068],[2135.7,13.020],[2136.0,13.140],[2136.2,13.044],
[2136.5,13.104],[2136.8,12.994],[2137.0,13.070],[2137.3,13.024],[2137.6,13.138],[2137.8,13.048],[2138.1,13.100],[2138.4,13.000],
[2138.6,13.076],[2138.8,13.130]
];
const v61b = [
[2061.1,13.002],[2061.4,13.046],[2061.6,13.138],[2061.9,13.092],[2062.2,13.018],[2062.5,13.070],[2062.7,13.122],[2063.0,13.114],
[2063.3,13.006],[2063.6,13.028],[2063.8,13.134],[2064.1,13.064],[2064.4,12.996],[2064.7,13.100],[2064.9,13.128],[2065.2,13.040],
[2065.5,13.014],[2065.8,13.078],[2066.0,13.118],[2066.3,13.116],[2066.6,13.002],[2066.9,13.058],[2067.1,13.138],[2067.4,13.024],
[2067.7,13.018],[2068.0,13.088],[2068.2,13.122],[2068.5,13.066],[2068.8,13.006],[2069.1,13.110],[2069.3,13.134],[2069.6,13.034],
[2069.9,12.996],[2070.2,13.074],[2070.4,13.128],[2070.7,13.096],[2071.0,13.014],[2071.3,13.052],[2071.5,13.118],[2071.8,13.030],
[2072.1,13.002],[2072.4,13.112],[2072.6,13.138],[2072.9,13.062],[2073.2,13.018],[2073.5,13.082],[2073.7,13.122],[2074.0,13.038],
[2074.3,13.006],[2074.6,13.106],[2074.8,13.134],[2075.1,13.060],[2075.4,12.996],[2075.7,13.072],[2075.9,13.128],[2076.2,13.044],
[2076.5,13.014],[2076.8,13.090],[2077.0,13.118],[2077.3,13.120],[2077.6,13.002],[2077.9,13.040],[2078.1,13.138],[2078.4,13.078],
[2078.7,13.018],[2079.0,13.116],[2079.2,13.122],[2079.5,13.058],[2079.8,13.006],[2080.1,13.024],[2080.3,13.134],[2080.6,13.088],
[2080.9,12.996],[2081.2,13.066],[2081.4,13.128],[2081.7,13.110],[2082.0,13.014],[2082.3,13.034],[2082.5,13.118],[2082.8,13.074],
[2083.1,13.002],[2083.4,13.096],[2083.6,13.138],[2083.9,13.052],[2084.2,13.018],[2084.5,13.030],[2084.7,13.122],[2085.0,13.112],
[2085.3,13.006],[2085.6,13.062],[2085.8,13.134],[2086.1,13.082],[2086.4,12.996],[2086.7,13.038],[2086.9,13.128],[2087.2,13.106],
[2087.5,13.014],[2087.8,13.060],[2088.0,13.118],[2088.3,13.072],[2088.6,13.002],[2088.9,13.044],[2089.1,13.138],[2089.4,13.090],
[2089.7,13.018],[2090.0,13.120],[2090.2,13.122],[2090.5,13.046],[2090.8,13.006],[2091.1,13.092],[2091.3,13.134],[2091.6,13.070],
[2091.9,12.996],[2092.2,13.114],[2092.4,13.128],[2092.7,13.028],[2093.0,13.014],[2093.3,13.064],[2093.5,13.118],[2093.8,13.100],
[2094.1,13.002],[2094.4,13.064],[2094.6,13.138],[2094.9,13.028],[2095.2,13.018],[2095.5,13.040],[2095.7,13.122],[2096.0,13.100],
[2096.3,13.006],[2096.6,13.116],[2096.8,13.134],[2097.1,13.078],[2097.4,12.996],[2097.7,13.024],[2097.9,13.128],[2098.2,13.058],
[2098.5,13.014],[2098.8,13.066],[2099.0,13.118],[2099.3,13.088],[2099.6,13.002],[2099.9,13.034],[2100.1,13.138],[2100.4,13.110],
[2100.7,13.018],[2101.0,13.096],[2101.2,13.122],[2101.5,13.074],[2101.8,13.006],[2102.1,13.030],[2102.3,13.134],[2102.6,13.052],
[2102.9,12.996],[2103.2,13.062],[2103.4,13.128],[2103.7,13.112],[2104.0,13.014],[2104.3,13.038],[2104.5,13.118],[2104.8,13.082],
[2105.1,13.002],[2105.4,13.060],[2105.6,13.138],[2105.9,13.106],[2106.2,13.018],[2106.5,13.044],[2106.7,13.122],[2107.0,13.072],
[2107.3,13.006],[2107.6,13.120],[2107.8,13.134],[2108.1,13.090],[2108.4,12.996],[2108.7,13.092],[2108.9,13.128],[2109.2,13.046],
[2109.5,13.014],[2109.8,13.114],[2110.0,13.118],[2110.3,13.070],[2110.6,13.002],[2110.9,13.046],[2111.1,13.138],[2111.4,13.034],
[2111.7,13.018],[2112.0,13.092],[2112.2,13.122],[2112.5,13.074],[2112.8,13.006],[2113.1,13.070],[2113.3,13.134],[2113.6,13.096],
[2113.9,12.996],[2114.2,13.114],[2114.4,13.128],[2114.7,13.052],[2115.0,13.014],[2115.3,13.028],[2115.5,13.118],[2115.8,13.030],
[2116.1,13.002],[2116.4,13.064],[2116.6,13.138],[2116.9,13.112],[2117.2,13.018],[2117.5,13.100],[2117.7,13.122],[2118.0,13.062],
[2118.3,13.006],[2118.6,13.040],[2118.8,13.134],[2119.1,13.082],[2119.4,12.996],[2119.7,13.078],[2119.9,13.128],[2120.2,13.038],
[2120.5,13.014],[2120.8,13.116],[2121.0,13.118],[2121.3,13.106],[2121.6,13.002],[2121.9,13.058],[2122.1,13.138],[2122.4,13.060],
[2122.7,13.018],[2123.0,13.024],[2123.2,13.122],[2123.5,13.072],[2123.8,13.006],[2124.1,13.088],[2124.3,13.134],[2124.6,13.044],
[2124.9,12.996],[2125.2,13.066],[2125.4,13.128],[2125.7,13.090],[2126.0,13.014],[2126.3,13.110],[2126.5,13.118],[2126.8,13.120],
[2127.1,13.002],[2127.4,13.074],[2127.6,13.138],[2127.9,13.092],[2128.2,13.018],[2128.5,13.052],[2128.7,13.122],[2129.0,13.114],
[2129.3,13.006],[2129.6,13.112],[2129.8,13.134],[2130.1,13.064],[2130.4,12.996],[2130.7,13.082],[2130.9,13.128],[2131.2,13.040],
[2131.5,13.014],[2131.8,13.106],[2132.0,13.118],[2132.3,13.116],[2132.6,13.002],[2132.9,13.072],[2133.1,13.138],[2133.4,13.024],
[2133.7,13.018],[2134.0,13.090],[2134.2,13.122],[2134.5,13.066],[2134.8,13.006],[2135.1,13.034],[2135.3,13.134],[2135.6,13.046],
[2135.9,12.996],[2136.2,13.096],[2136.4,13.128],[2136.7,13.070],[2137.0,13.014],[2137.3,13.030],[2137.5,13.118],[2137.8,13.028],
[2138.1,13.002],[2138.4,13.062],[2138.6,13.138],[2138.8,13.100]
];

const v76 = [
[2061.0,13.28],[2061.2,13.59],[2061.5,13.36],[2061.8,13.51],[2062.0,13.29],[2062.3,13.60],[2062.6,13.45],[2062.8,13.55],
[2063.1,13.28],[2063.4,13.58],[2063.6,13.40],[2063.9,13.52],[2064.0,13.63],[2064.2,13.27],[2064.4,13.60],[2064.7,13.33],
[2065.0,13.48],[2065.2,13.29],[2065.5,13.59],[2065.8,13.41],[2066.0,13.55],[2066.3,13.28],[2066.6,13.60],[2066.8,13.34],
[2067.1,13.46],[2067.4,13.29],[2067.6,13.58],[2067.9,13.39],[2068.2,13.53],[2068.4,13.28],[2068.7,13.60],[2069.0,13.32],
[2069.2,13.49],[2069.5,13.27],[2069.8,13.59],[2070.0,13.42],[2070.3,13.56],[2070.6,13.29],[2070.8,13.60],[2071.1,13.35],
[2071.4,13.47],[2071.6,13.28],[2071.9,13.58],[2072.2,13.40],[2072.4,13.54],[2072.7,13.29],[2073.0,13.59],[2073.2,13.33],
[2073.5,13.50],[2073.8,13.28],[2074.0,13.60],[2074.3,13.43],[2074.6,13.55],[2074.8,13.27],[2075.1,13.59],[2075.4,13.36],
[2075.6,13.46],[2075.9,13.29],[2076.2,13.58],[2076.4,13.41],[2076.7,13.52],[2077.0,13.28],[2077.2,13.60],[2077.5,13.33],
[2077.6,13.665],[2077.8,13.48],[2078.1,13.29],[2078.4,13.59],[2078.6,13.44],[2078.9,13.55],[2079.2,13.28],[2079.4,13.60],
[2079.7,13.37],[2080.0,13.50],[2080.2,13.27],[2080.5,13.58],[2080.8,13.40],[2081.0,13.53],[2081.3,13.29],[2081.6,13.59],
[2081.8,13.32],[2082.1,13.47],[2082.4,13.28],[2082.6,13.60],[2082.9,13.43],[2083.2,13.56],[2083.4,13.29],[2083.7,13.59],
[2084.0,13.35],[2084.2,13.49],[2084.5,13.28],[2084.8,13.58],[2085.0,13.41],[2085.3,13.54],[2085.6,13.27],[2085.8,13.60],
[2086.1,13.33],[2086.4,13.46],[2086.6,13.29],[2086.9,13.59],[2087.2,13.38],[2087.4,13.52],[2087.7,13.28],[2088.0,13.60],
[2088.2,13.44],[2088.5,13.55],[2088.8,13.29],[2089.0,13.58],[2089.3,13.31],[2089.6,13.48],[2089.8,13.28],[2090.1,13.60],
[2090.4,13.40],[2090.6,13.53],[2090.9,13.27],[2091.2,13.59],[2091.4,13.36],[2091.7,13.50],[2092.0,13.29],[2092.2,13.61],
[2092.5,13.42],[2092.8,13.56],[2093.0,13.28],[2093.3,13.59],[2093.6,13.34],[2093.8,13.47],[2094.1,13.29],[2094.4,13.58],
[2094.6,13.45],[2094.9,13.54],[2095.2,13.28],[2095.4,13.60],[2095.7,13.39],[2096.0,13.51],[2096.2,13.27],[2096.5,13.59],
[2096.8,13.33],[2097.0,13.49],[2097.3,13.29],[2097.6,13.60],[2097.8,13.41],[2098.1,13.55],[2098.4,13.28],[2098.6,13.58],
[2098.9,13.36],[2099.2,13.46],[2099.4,13.29],[2099.7,13.60],[2100.0,13.43],[2100.2,13.53],[2100.5,13.28],[2100.8,13.59],
[2101.0,13.32],[2101.3,13.50],[2101.6,13.27],[2101.8,13.58],[2102.1,13.38],[2102.4,13.56],[2102.6,13.29],[2102.9,13.60],
[2103.2,13.44],[2103.4,13.48],[2103.7,13.27],[2104.0,13.59],[2104.2,13.35],[2104.5,13.52],[2104.8,13.28],[2105.0,13.60],
[2105.3,13.40],[2105.6,13.55],[2105.8,13.29],[2106.1,13.58],[2106.4,13.33],[2106.6,13.47],[2106.9,13.28],[2107.2,13.59],
[2107.4,13.42],[2107.7,13.54],[2108.0,13.29],[2108.2,13.60],[2108.5,13.37],[2108.8,13.50],[2109.0,13.27],[2109.3,13.58],
[2109.6,13.45],[2109.8,13.53],[2110.1,13.28],[2110.4,13.60],[2110.6,13.34],[2110.9,13.49],[2111.2,13.29],[2111.4,13.59],
[2111.7,13.39],[2112.0,13.56],[2112.2,13.28],[2112.5,13.60],[2112.8,13.43],[2113.0,13.46],[2113.3,13.27],[2113.6,13.58],
[2113.8,13.32],[2114.1,13.52],[2114.4,13.29],[2114.6,13.61],[2114.9,13.40],[2115.2,13.55],[2115.4,13.28],[2115.7,13.59],
[2116.0,13.36],[2116.2,13.48],[2116.5,13.29],[2116.8,13.60],[2117.0,13.44],[2117.3,13.54],[2117.6,13.28],[2117.8,13.58],
[2118.1,13.33],[2118.4,13.61],[2118.6,13.50],[2118.9,13.27],[2119.2,13.59],[2119.4,13.41],[2119.7,13.56],[2120.0,13.29],
[2120.2,13.60],[2120.5,13.38],[2120.8,13.47],[2121.0,13.28],[2121.3,13.58],[2121.6,13.45],[2121.8,13.53],[2122.1,13.29],
[2122.4,13.60],[2122.6,13.34],[2122.9,13.51],[2123.2,13.28],[2123.4,13.59],[2123.7,13.42],[2124.0,13.55],[2124.2,13.27],
[2124.5,13.60],[2124.8,13.37],[2125.0,13.48],[2125.3,13.29],[2125.6,13.58],[2125.8,13.43],[2126.1,13.54],[2126.4,13.28],
[2126.6,13.59],[2126.9,13.32],[2127.2,13.50],[2127.4,13.27],[2127.7,13.60],[2128.0,13.40],[2128.2,13.56],[2128.5,13.29],
[2128.8,13.58],[2129.0,13.35],[2129.3,13.46],[2129.6,13.28],[2129.8,13.60],[2130.1,13.44],[2130.4,13.53],[2130.6,13.29],
[2130.9,13.59],[2131.2,13.38],[2131.4,13.49],[2131.7,13.28],[2132.0,13.60],[2132.2,13.33],[2132.5,13.55],[2132.8,13.27],
[2133.0,13.58],[2133.3,13.41],[2133.6,13.52],[2133.8,13.29],[2134.1,13.59],[2134.4,13.36],[2134.6,13.47],[2134.9,13.28],
[2135.2,13.60],[2135.4,13.45],[2135.7,13.54],[2136.0,13.29],[2136.2,13.58],[2136.5,13.34],[2136.8,13.50],[2137.0,13.28],
[2137.3,13.60],[2137.6,13.42],[2137.8,13.56],[2138.1,13.27],[2138.4,13.59],[2138.6,13.39],[2138.8,13.48]
];
const v76b = [
[2061.1,13.30],[2061.4,13.33],[2061.6,13.58],[2061.9,13.45],[2062.2,13.27],[2062.5,13.39],[2062.7,13.61],[2063.0,13.52],
[2063.3,13.29],[2063.6,13.31],[2063.8,13.59],[2064.1,13.42],[2064.4,13.26],[2064.7,13.49],[2064.9,13.57],[2065.2,13.35],
[2065.5,13.28],[2065.8,13.46],[2066.0,13.60],[2066.3,13.55],[2066.6,13.30],[2066.9,13.40],[2067.1,13.58],[2067.4,13.32],
[2067.7,13.27],[2068.0,13.48],[2068.2,13.61],[2068.5,13.38],[2068.8,13.29],[2069.1,13.54],[2069.3,13.59],[2069.6,13.34],
[2069.9,13.26],[2070.2,13.44],[2070.4,13.57],[2070.7,13.50],[2071.0,13.28],[2071.3,13.37],[2071.5,13.60],[2071.8,13.31],
[2072.1,13.30],[2072.4,13.53],[2072.6,13.58],[2072.9,13.41],[2073.2,13.27],[2073.5,13.47],[2073.7,13.61],[2074.0,13.33],
[2074.3,13.29],[2074.6,13.51],[2074.8,13.59],[2075.1,13.43],[2075.4,13.26],[2075.7,13.45],[2075.9,13.57],[2076.2,13.36],
[2076.5,13.28],[2076.8,13.49],[2077.0,13.60],[2077.3,13.56],[2077.6,13.30],[2077.9,13.35],[2078.1,13.58],[2078.4,13.46],
[2078.7,13.27],[2079.0,13.55],[2079.2,13.61],[2079.5,13.40],[2079.8,13.29],[2080.1,13.32],[2080.3,13.59],[2080.6,13.48],
[2080.9,13.26],[2081.2,13.38],[2081.4,13.57],[2081.7,13.54],[2082.0,13.28],[2082.3,13.34],[2082.5,13.60],[2082.8,13.44],
[2083.1,13.30],[2083.4,13.50],[2083.6,13.58],[2083.9,13.37],[2084.2,13.27],[2084.5,13.31],[2084.7,13.61],[2085.0,13.53],
[2085.3,13.29],[2085.6,13.41],[2085.8,13.59],[2086.1,13.47],[2086.4,13.26],[2086.7,13.33],[2086.9,13.57],[2087.2,13.51],
[2087.5,13.28],[2087.8,13.43],[2088.0,13.60],[2088.3,13.45],[2088.6,13.30],[2088.9,13.36],[2089.1,13.58],[2089.4,13.49],
[2089.7,13.27],[2090.0,13.56],[2090.2,13.61],[2090.5,13.33],[2090.8,13.29],[2091.1,13.45],[2091.3,13.59],[2091.6,13.39],
[2091.9,13.26],[2092.2,13.52],[2092.4,13.57],[2092.7,13.31],[2093.0,13.28],[2093.3,13.42],[2093.5,13.60],[2093.8,13.49],
[2094.1,13.30],[2094.4,13.42],[2094.6,13.58],[2094.9,13.31],[2095.2,13.27],[2095.5,13.35],[2095.7,13.61],[2096.0,13.49],
[2096.3,13.29],[2096.6,13.55],[2096.8,13.59],[2097.1,13.46],[2097.4,13.26],[2097.7,13.32],[2097.9,13.57],[2098.2,13.40],
[2098.5,13.28],[2098.8,13.38],[2099.0,13.60],[2099.3,13.48],[2099.6,13.30],[2099.9,13.34],[2100.1,13.58],[2100.4,13.54],
[2100.7,13.27],[2101.0,13.50],[2101.2,13.61],[2101.5,13.44],[2101.8,13.29],[2102.1,13.31],[2102.3,13.59],[2102.6,13.37],
[2102.9,13.26],[2103.2,13.41],[2103.4,13.57],[2103.7,13.53],[2104.0,13.28],[2104.3,13.33],[2104.5,13.60],[2104.8,13.47],
[2105.1,13.30],[2105.4,13.43],[2105.6,13.58],[2105.9,13.51],[2106.2,13.27],[2106.5,13.36],[2106.7,13.61],[2107.0,13.45],
[2107.3,13.29],[2107.6,13.56],[2107.8,13.59],[2108.1,13.49],[2108.4,13.26],[2108.7,13.45],[2108.9,13.57],[2109.2,13.33],
[2109.5,13.28],[2109.8,13.52],[2110.0,13.60],[2110.3,13.39],[2110.6,13.30],[2110.9,13.33],[2111.1,13.58],[2111.4,13.34],
[2111.7,13.27],[2112.0,13.45],[2112.2,13.61],[2112.5,13.44],[2112.8,13.29],[2113.1,13.39],[2113.3,13.59],[2113.6,13.50],
[2113.9,13.26],[2114.2,13.52],[2114.4,13.57],[2114.7,13.37],[2115.0,13.28],[2115.3,13.31],[2115.5,13.60],[2115.8,13.31],
[2116.1,13.30],[2116.4,13.42],[2116.6,13.58],[2116.9,13.53],[2117.2,13.27],[2117.5,13.49],[2117.7,13.61],[2118.0,13.41],
[2118.3,13.29],[2118.6,13.35],[2118.8,13.59],[2119.1,13.47],[2119.4,13.26],[2119.7,13.46],[2119.9,13.57],[2120.2,13.33],
[2120.5,13.28],[2120.8,13.55],[2121.0,13.60],[2121.3,13.51],[2121.6,13.30],[2121.9,13.40],[2122.1,13.58],[2122.4,13.43],
[2122.7,13.27],[2123.0,13.32],[2123.2,13.61],[2123.5,13.45],[2123.8,13.29],[2124.1,13.48],[2124.3,13.59],[2124.6,13.36],
[2124.9,13.26],[2125.2,13.38],[2125.4,13.57],[2125.7,13.49],[2126.0,13.28],[2126.3,13.54],[2126.5,13.60],[2126.8,13.56],
[2127.1,13.30],[2127.4,13.44],[2127.6,13.58],[2127.9,13.45],[2128.2,13.27],[2128.5,13.37],[2128.7,13.61],[2129.0,13.52],
[2129.3,13.29],[2129.6,13.53],[2129.8,13.59],[2130.1,13.42],[2130.4,13.26],[2130.7,13.47],[2130.9,13.57],[2131.2,13.35],
[2131.5,13.28],[2131.8,13.51],[2132.0,13.60],[2132.3,13.55],[2132.6,13.30],[2132.9,13.45],[2133.1,13.58],[2133.4,13.32],
[2133.7,13.27],[2134.0,13.49],[2134.2,13.61],[2134.5,13.38],[2134.8,13.29],[2135.1,13.34],[2135.3,13.59],[2135.6,13.33],
[2135.9,13.26],[2136.2,13.50],[2136.4,13.57],[2136.7,13.39],[2137.0,13.28],[2137.3,13.31],[2137.5,13.60],[2137.8,13.31],
[2138.1,13.30],[2138.4,13.41],[2138.6,13.58],[2138.8,13.49]
];

const seriesList = [[v6, v6b], [v42, v42b], [v43, v43b], [v61, v61b], [v76, v76b]];
const rangeList = [v6Range, v42Range, v43Range, v61Range, v76Range];
const tickList = [v6Ticks, v42Ticks, v43Ticks, v61Ticks, v76Ticks];

// ---------- drawing ----------
const FONT = "'Liberation Sans', Arial, Helvetica, sans-serif";
const FS = 19;
const PANEL_H = 215.4, CANVAS_H = 216;
const AREA_TOP = 13, AREA_H = 138, AREA_LEFT = 102, AREA_RIGHT_PAD = 34;
const DOT = '#0a72b0';

const framePlugin = {
  id: 'frame',
  afterDraw(chart, args, opts) {
    const {ctx, chartArea: a, scales: {x, y}} = chart;
    ctx.save();
    ctx.strokeStyle = '#000';
    ctx.lineWidth = 1;
    const L = Math.round(a.left) + 0.5, R = Math.round(a.right) - 0.5;
    const T = Math.round(a.top) + 0.5, B = Math.round(a.bottom) - 0.5;
    ctx.strokeRect(L, T, R - L, B - T);
    ctx.beginPath();
    for (let v = x.min; v <= x.max + 1e-6; v += 2) {
      const px = Math.round(x.getPixelForValue(v)) + 0.5;
      const len = Math.abs(((v % 10) + 10) % 10) < 1e-6 ? 7 : 3.5;
      ctx.moveTo(px, B); ctx.lineTo(px, B - len);
      ctx.moveTo(px, T); ctx.lineTo(px, T + len);
    }
    const n = Math.round((y.max - y.min) / 0.05);
    for (let i = 0; i <= n; i++) {
      const v = y.min + i * 0.05;
      const major = Math.abs(Math.round(v / 0.2) * 0.2 - v) < 1e-6;
      const len = major ? 7 : 3.5;
      const py = Math.round(y.getPixelForValue(v)) + 0.5;
      ctx.moveTo(L, py); ctx.lineTo(L + len, py);
      ctx.moveTo(R, py); ctx.lineTo(R - len, py);
    }
    ctx.stroke();
    ctx.fillStyle = '#000';
    ctx.font = FS + 'px ' + FONT;
    ctx.textAlign = 'right';
    ctx.textBaseline = 'middle';
    ctx.fillText(opts.label, a.right - 23, a.top + 12);
    ctx.restore();
  }
};

const wrap = document.getElementById('wrap');
seriesList.forEach((pair, k) => {
  const cv = document.createElement('canvas');
  cv.width = 684; cv.height = CANVAS_H;
  cv.style.width = '684px'; cv.style.height = CANVAS_H + 'px';
  cv.style.top = Math.round(k * PANEL_H) + 'px';
  wrap.appendChild(cv);
  const yT = tickList[k];
  const ds = pair.map(arr => ({
    data: arr.map(p => ({x: p[0], y: p[1]})),
    pointRadius: 2.3, pointBorderWidth: 0, pointHoverRadius: 0,
    backgroundColor: DOT, borderColor: DOT
  }));
  new Chart(cv, {
    type: 'scatter',
    data: { datasets: ds },
    options: {
      responsive: false, animation: false, events: [],
      devicePixelRatio: 1,
      layout: { padding: 0 },
      plugins: { legend: { display: false }, tooltip: { enabled: false },
                 frame: { label: starNames[k] } },
      scales: {
        x: {
          type: 'linear', min: xRange[0], max: xRange[1],
          afterBuildTicks: s => { s.ticks = xTicks.map(v => ({value: v})); },
          grid: { display: false, drawTicks: false }, border: { display: false },
          ticks: { font: { family: FONT, size: FS }, color: '#000', padding: 8,
                   maxRotation: 0, autoSkip: false, callback: v => String(v) },
          title: { display: true, text: 'BJD-2454833 (d)', color: '#000',
                   font: { family: FONT, size: FS }, padding: { top: 0, bottom: 4 } },
          afterFit: s => { s.height = CANVAS_H - AREA_TOP - AREA_H; s.paddingLeft = 0; s.paddingRight = AREA_RIGHT_PAD; }
        },
        y: {
          type: 'linear', reverse: true, min: rangeList[k][0], max: rangeList[k][1],
          afterBuildTicks: s => { s.ticks = yT.map(v => ({value: v})); },
          grid: { display: false, drawTicks: false }, border: { display: false },
          ticks: { font: { family: FONT, size: FS }, color: '#000', padding: 12,
                   autoSkip: false, callback: v => String(+Number(v).toFixed(2)) },
          title: { display: true, text: 'Kp mag', color: '#000',
                   font: { family: FONT, size: FS }, padding: { top: 7, bottom: 0 } },
          afterFit: s => { s.width = AREA_LEFT; s.paddingTop = AREA_TOP; s.paddingBottom = 0; }
        }
      }
    },
    plugins: [framePlugin]
  });
});
</script>
</body></html>
